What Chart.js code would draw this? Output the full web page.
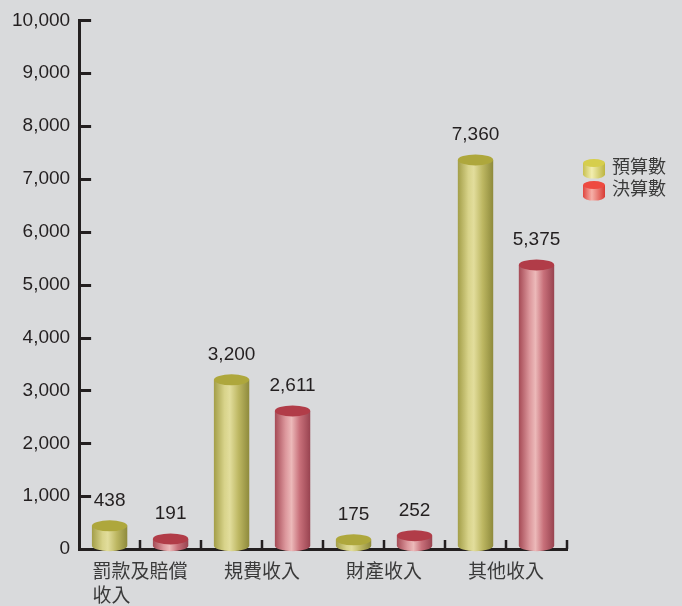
<!DOCTYPE html>
<html>
<head>
<meta charset="utf-8">
<script src="https://cdn.jsdelivr.net/npm/chart.js@4.4.1/dist/chart.umd.min.js"></script>
<style>
  html, body { margin: 0; padding: 0; background: #d9dadc; }
  #wrap { width: 682px; height: 606px; }
</style>
</head>
<body>
<div id="wrap"><canvas id="c" width="682" height="606"></canvas></div>
<script>
// Categories (multi-line labels are arrays)
const categories = [['罰款及賠償', '收入'], '規費收入', '財產收入', '其他收入'];
// Series values
const budgetValues = [438, 3200, 175, 7360];
const actualValues = [191, 2611, 252, 5375];
const seriesNames = ['預算數', '決算數'];
// Y axis range
const yMin = 0;
const yMax = 10000;
const yStep = 1000;

const FONT = '"Liberation Sans", "Noto Sans CJK TC", Arial, sans-serif';
const INK = '#231f20';
const LABEL_INK = '#3a3a3a';

// Cylinder palettes: body gradient stops, top-cap colour, legend icon colours
const palettes = [
  {
    body: [[0, '#a39e48'], [0.3, '#d8d38a'], [0.45, '#e2dd9c'], [0.7, '#bdb762'], [1, '#8e8a3c']],
    cap: '#aea73c',
    icon: [[0, '#c8c050'], [0.4, '#f2eeb0'], [1, '#bdb540']], iconCap: '#d6ce4c'
  },
  {
    body: [[0, '#a54a55'], [0.3, '#dc979c'], [0.47, '#ecb9b9'], [0.7, '#c8707a'], [1, '#984350']],
    cap: '#b13c48',
    icon: [[0, '#e0463f'], [0.4, '#f6b0a8'], [1, '#d83a34']], iconCap: '#ee4a40'
  }
];

function hGradient(ctx, x0, x1, stops) {
  const g = ctx.createLinearGradient(x0, 0, x1, 0);
  stops.forEach(s => g.addColorStop(s[0], s[1]));
  return g;
}

function drawCylinder(ctx, cx, topY, baseY, w, ry, bodyStops, capColor) {
  const left = cx - w / 2, right = cx + w / 2;
  const bottomY = baseY - ry * 0.6;
  ctx.save();
  // body
  ctx.beginPath();
  ctx.moveTo(left, topY);
  ctx.lineTo(left, bottomY);
  ctx.ellipse(cx, bottomY, w / 2, ry, 0, Math.PI, 0, true);
  ctx.lineTo(right, topY);
  ctx.closePath();
  ctx.fillStyle = hGradient(ctx, left, right, bodyStops);
  ctx.fill();
  // top cap
  ctx.beginPath();
  ctx.ellipse(cx, topY, w / 2, ry, 0, 0, Math.PI * 2);
  ctx.fillStyle = capColor;
  ctx.fill();
  ctx.restore();
}

const cylinderPlugin = {
  id: 'cylinders',
  afterDatasetsDraw(chart) {
    const ctx = chart.ctx;
    chart.data.datasets.forEach((ds, di) => {
      const meta = chart.getDatasetMeta(di);
      const pal = palettes[di];
      meta.data.forEach(bar => {
        const p = bar.getProps(['x', 'y', 'base', 'width'], true);
        drawCylinder(ctx, p.x, p.y, p.base, p.width, 5.5, pal.body, pal.cap);
      });
    });
    // value labels
    ctx.save();
    ctx.font = '19px ' + FONT;
    ctx.fillStyle = INK;
    ctx.textAlign = 'center';
    ctx.textBaseline = 'middle';
    chart.data.datasets.forEach((ds, di) => {
      const meta = chart.getDatasetMeta(di);
      meta.data.forEach((bar, i) => {
        const p = bar.getProps(['x', 'y'], true);
        ctx.fillText(ds.data[i].toLocaleString('en-US'), p.x, p.y - 25);
      });
    });
    ctx.restore();
  }
};

// Inward-pointing tick marks on both axes, plus category labels (lines left-aligned)
const axisTicksPlugin = {
  id: 'axisTicks',
  afterDraw(chart) {
    const ctx = chart.ctx;
    const area = chart.chartArea;
    const y = chart.scales.y, x = chart.scales.x;
    ctx.save();
    ctx.strokeStyle = INK;
    ctx.lineWidth = 3;
    ctx.beginPath();
    y.ticks.forEach(t => {
      const py = Math.round(y.getPixelForValue(t.value)) + 0.5;
      ctx.moveTo(area.left, py);
      ctx.lineTo(area.left + 12, py);
    });
    ctx.stroke();
    ctx.lineWidth = 2.5;
    ctx.beginPath();
    const n = categories.length;
    const slot = (area.right - area.left) / (n * 2);
    for (let k = 1; k <= n * 2; k++) {
      const px = Math.round(area.left + slot * k);
      ctx.moveTo(px, area.bottom);
      ctx.lineTo(px, area.bottom - 9);
    }
    ctx.stroke();

    ctx.font = '19px ' + FONT;
    ctx.fillStyle = LABEL_INK;
    ctx.textAlign = 'left';
    ctx.textBaseline = 'middle';
    categories.forEach((lab, i) => {
      const lines = Array.isArray(lab) ? lab : [lab];
      const cx = x.getPixelForValue(i);
      const maxW = Math.max(...lines.map(l => ctx.measureText(l).width));
      lines.forEach((l, li) => {
        ctx.fillText(l, cx - maxW / 2, area.bottom + 24 + li * 24);
      });
    });
    ctx.restore();
  }
};

// Legend with small cylinder icons
const legendPlugin = {
  id: 'cylLegend',
  afterDraw(chart) {
    const ctx = chart.ctx;
    const area = chart.chartArea;
    const x0 = area.right + 16;
    const y0 = 168;
    ctx.save();
    ctx.font = '18px ' + FONT;
    ctx.textBaseline = 'middle';
    ctx.textAlign = 'left';
    chart.data.datasets.forEach((ds, di) => {
      const cy = y0 + di * 22;
      const pal = palettes[di];
      drawCylinder(ctx, x0 + 11, cy - 5, cy + 9, 22, 4, pal.icon, pal.iconCap);
      ctx.fillStyle = LABEL_INK;
      ctx.fillText(ds.label, x0 + 29, cy);
    });
    ctx.restore();
  }
};

const yTickValues = [];
for (let v = yMin; v <= yMax; v += yStep) yTickValues.push(v);

new Chart(document.getElementById('c'), {
  type: 'bar',
  data: {
    labels: categories,
    datasets: [
      { label: seriesNames[0], data: budgetValues, backgroundColor: 'rgba(0,0,0,0)' },
      { label: seriesNames[1], data: actualValues, backgroundColor: 'rgba(0,0,0,0)' }
    ]
  },
  options: {
    responsive: false,
    animation: false,
    events: [],
    layout: { padding: { left: 3, right: 115, top: 15, bottom: 57 } },
    datasets: { bar: { categoryPercentage: 1, barPercentage: 0.58 } },
    plugins: { legend: { display: false }, tooltip: { enabled: false } },
    scales: {
      x: {
        grid: { display: false, drawTicks: false },
        border: { display: true, color: INK, width: 3 },
        ticks: { display: false }
      },
      y: {
        min: yMin, max: yMax,
        afterBuildTicks(scale) { scale.ticks = yTickValues.map(v => ({ value: v })); },
        grid: { display: false, drawTicks: false },
        border: { display: true, color: INK, width: 3 },
        ticks: {
          color: INK, font: { family: FONT, size: 19 }, padding: 9,
          callback: v => Number(v).toLocaleString('en-US')
        }
      }
    }
  },
  plugins: [cylinderPlugin, axisTicksPlugin, legendPlugin]
});
</script>
</body>
</html>
